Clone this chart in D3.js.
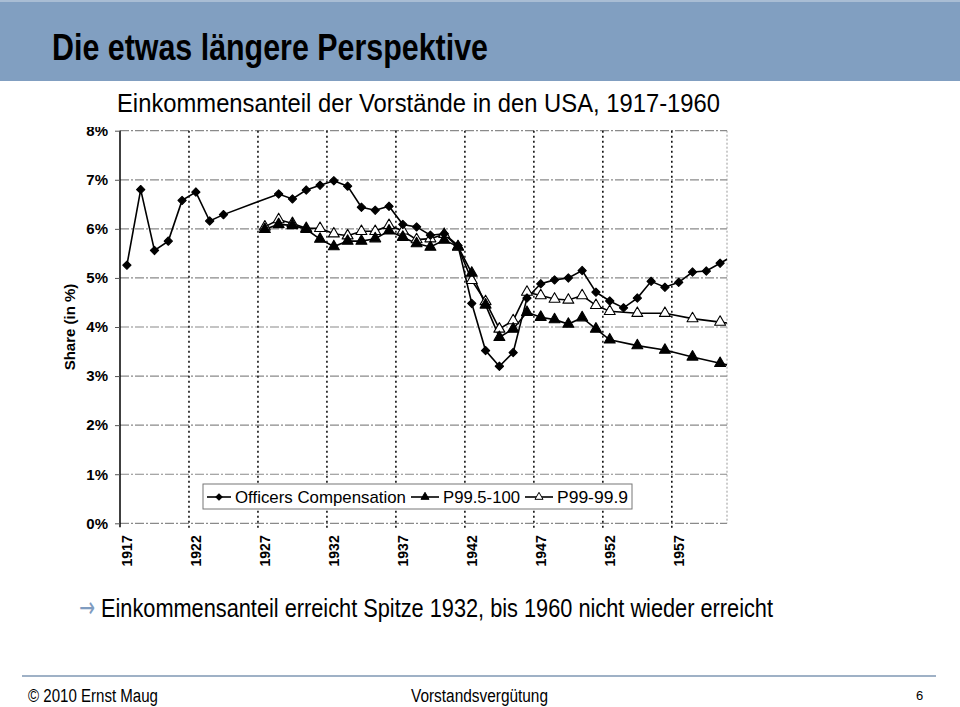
<!DOCTYPE html>
<html><head><meta charset="utf-8">
<script src="https://cdn.jsdelivr.net/npm/d3@7"></script>
<style>body{margin:0;background:#fff}svg{display:block}</style>
</head><body>
<svg id="c" width="960" height="707"></svg>
<script>
const years = d3.range(1917, 1963);
const officers = [5.26,6.80,5.56,5.75,6.58,6.75,6.16,6.29,null,null,null,6.71,6.61,6.79,6.89,6.98,6.87,6.44,6.38,6.46,6.09,6.04,5.87,5.90,5.66,4.48,3.52,3.20,3.48,4.59,4.88,4.96,5.00,5.15,4.71,4.53,4.39,4.59,4.93,4.81,4.91,5.12,5.14,5.30,5.46,null];
const p995 = [null,null,null,null,null,null,null,null,null,null,5.99,6.09,6.07,5.99,5.79,5.64,5.75,5.75,5.80,5.96,5.83,5.70,5.63,5.77,5.64,5.10,4.45,3.79,3.96,4.30,4.20,4.15,4.06,4.19,3.96,3.74,null,3.62,null,3.53,null,3.39,null,3.26,null,3.13];
const p99 = [null,null,null,null,null,null,null,null,null,null,6.04,6.19,6.11,6.01,6.01,5.90,5.86,5.95,5.95,6.07,5.96,5.78,5.80,5.89,5.63,4.95,4.52,3.96,4.13,4.71,4.64,4.57,4.55,4.64,4.44,4.32,null,4.28,null,4.28,null,4.17,null,4.10,null,4.03];
const yTicks = [0,1,2,3,4,5,6,7,8];
const xTickYears = [1917,1922,1927,1932,1937,1942,1947,1952,1957];
const gridYears = [1922,1927,1932,1937,1942,1947,1952,1957];
const seriesNames = ["Officers Compensation","P99.5-100","P99-99.9"];

const svg = d3.select("#c");
const F = "'Liberation Sans', Arial, sans-serif";
const FN = "'Liberation Sans Narrow', 'Liberation Sans', Arial, sans-serif";

// header
svg.append("rect").attr("x",0).attr("y",0).attr("width",960).attr("height",81).attr("fill","#819fc1");
svg.append("rect").attr("x",0).attr("y",0).attr("width",960).attr("height",2).attr("fill","#a9bdd4");
svg.append("text").attr("x",52).attr("y",60).attr("font-family",FN).attr("font-weight","bold")
  .attr("font-size",37).attr("textLength",436).attr("lengthAdjust","spacingAndGlyphs")
  .attr("fill","#000").text("Die etwas längere Perspektive");
svg.append("text").attr("x",117).attr("y",112).attr("font-family",FN)
  .attr("font-size",25).attr("textLength",603).attr("lengthAdjust","spacingAndGlyphs")
  .attr("fill","#000").text("Einkommensanteil der Vorstände in den USA, 1917-1960");

// chart
const x = d3.scaleLinear().domain([1916.5,1960.5]).range([120,727]);
const y = d3.scaleLinear().domain([0,8]).range([523.3,130.7]);

svg.append("defs").append("clipPath").attr("id","clipAll").append("rect")
  .attr("x",0).attr("y",127).attr("width",960).attr("height",500);
svg.select("defs").append("clipPath").attr("id","clipPlot").append("rect")
  .attr("x",120).attr("y",120).attr("width",607).attr("height",420);

const g = svg.append("g").attr("clip-path","url(#clipAll)");

// horizontal gridlines
g.append("g").selectAll("line").data(yTicks).join("line")
  .attr("x1",x(1916.5)).attr("x2",x(1960.5))
  .attr("y1",d=>y(d)).attr("y2",d=>y(d))
  .attr("stroke","#8a8a8a").attr("stroke-width",1.2).attr("stroke-dasharray","9,2,2,2");

// vertical dotted gridlines
g.append("g").selectAll("line").data(gridYears).join("line")
  .attr("x1",d=>x(d-0.5)).attr("x2",d=>x(d-0.5))
  .attr("y1",y(8)).attr("y2",y(0)+5)
  .attr("stroke","#111").attr("stroke-width",1.6).attr("stroke-dasharray","2,3");
// right border
g.append("line").attr("x1",x(1960.5)).attr("x2",x(1960.5)).attr("y1",y(8)).attr("y2",y(0))
  .attr("stroke","#999").attr("stroke-width",1).attr("stroke-dasharray","2,2");

// y axis
const yAxis = d3.axisLeft(y).tickValues(yTicks).tickSize(5).tickFormat(d=>d+"%");
const ya = g.append("g").attr("transform","translate(120,0)").call(yAxis);
ya.select(".domain").attr("d",`M0,${y(8)}V${y(0)+4}`).attr("stroke","#000").attr("stroke-width",1.5);
ya.selectAll(".tick line").attr("stroke","#555");
ya.selectAll(".tick text").attr("font-family",F).attr("font-weight","bold").attr("font-size",15)
  .attr("x",-12).attr("fill","#000");

// x labels
const xa = d3.axisBottom(x).tickValues(xTickYears).tickSize(0).tickFormat(d=>String(d));
const xg = g.append("g").attr("transform",`translate(0,${y(0)})`).call(xa);
xg.select(".domain").remove();
xg.selectAll(".tick text").attr("font-family",F).attr("font-weight","bold").attr("font-size",14)
  .attr("fill","#000").attr("text-anchor","end").attr("transform","rotate(-90)")
  .attr("x",-12).attr("y",0).attr("dy","0.36em");

// y title
svg.append("text").attr("transform",`translate(75,${(y(0)+y(8))/2}) rotate(-90)`)
  .attr("text-anchor","middle").attr("font-family",F).attr("font-weight","bold").attr("font-size",15)
  .text("Share (in %)");

// series
const plot = g.append("g").attr("clip-path","url(#clipPlot)");
const line = d3.line().defined(d=>d.v!=null).x(d=>x(d.yr)).y(d=>y(d.v));
function ser(vals){ return years.map((yr,i)=>({yr, v: vals[i]})).filter(d=>d.v!=null); }
const diamond = d3.symbol().type(d3.symbolSquare).size(34);
const tri = d3.symbol().type(d3.symbolTriangle).size(52);
const series = [
  {name:seriesNames[0], data:ser(officers), sym:diamond, rot:45, fill:"#000"},
  {name:seriesNames[1], data:ser(p995), sym:tri, rot:0, fill:"#000"},
  {name:seriesNames[2], data:ser(p99), sym:tri, rot:0, fill:"#fff"}
];
series.slice().reverse().forEach(s=>{
  plot.append("path").datum(s.data).attr("d",line).attr("fill","none")
    .attr("stroke","#000").attr("stroke-width",1.6);
});
series.slice().reverse().forEach(s=>{
  plot.append("g").selectAll("path").data(s.data).join("path")
    .attr("transform",d=>`translate(${x(d.yr)},${y(d.v)}) rotate(${s.rot})`)
    .attr("d",s.sym).attr("fill",s.fill).attr("stroke","#000").attr("stroke-width",1.1)
    .attr("stroke-linejoin","round");
});

// legend
const lg = svg.append("g");
lg.append("rect").attr("x",203).attr("y",484).attr("width",429).attr("height",25)
  .attr("fill","#fff").attr("stroke","#777").attr("stroke-width",1);
const legItems = [
  {s:series[0], lx:207, tx:235, tw:171},
  {s:series[1], lx:411, tx:443, tw:77},
  {s:series[2], lx:525, tx:557, tw:71}
];
legItems.forEach(it=>{
  const cy = 497;
  lg.append("line").attr("x1",it.lx).attr("x2",it.tx-4).attr("y1",cy).attr("y2",cy)
    .attr("stroke","#000").attr("stroke-width",1.6);
  lg.append("path").attr("transform",`translate(${(it.lx+it.tx-4)/2},${cy}) rotate(${it.s.rot})`)
    .attr("d",d3.symbol().type(it.s===series[0]?d3.symbolSquare:d3.symbolTriangle).size(it.s===series[0]?20:28))
    .attr("fill",it.s.fill).attr("stroke","#000").attr("stroke-width",1);
  lg.append("text").attr("x",it.tx).attr("y",503).attr("font-family",F).attr("font-size",17)
    .attr("textLength",it.tw).attr("lengthAdjust","spacingAndGlyphs").text(it.s.name);
});

// bullet
svg.append("text").attr("transform","translate(79,617) scale(1,1.5)")
  .attr("font-family","'DejaVu Sans', sans-serif")
  .attr("font-size",19).attr("fill","#7f9cc0").text("→");
svg.append("text").attr("x",101).attr("y",617).attr("font-family",FN).attr("font-size",25)
  .attr("textLength",672).attr("lengthAdjust","spacingAndGlyphs")
  .text("Einkommensanteil erreicht Spitze 1932, bis 1960 nicht wieder erreicht");

// footer
svg.append("rect").attr("x",22).attr("y",675).attr("width",914).attr("height",2).attr("fill","#9fb1c6");
svg.append("text").attr("x",28).attr("y",702).attr("font-family",FN).attr("font-size",18)
  .attr("textLength",130).attr("lengthAdjust","spacingAndGlyphs").text("© 2010 Ernst Maug");
svg.append("text").attr("x",411).attr("y",702).attr("font-family",FN).attr("font-size",18)
  .attr("textLength",137).attr("lengthAdjust","spacingAndGlyphs").text("Vorstandsvergütung");
svg.append("text").attr("x",916).attr("y",700).attr("font-family",FN).attr("font-size",13)
  .text("6");
</script>
</body></html>
